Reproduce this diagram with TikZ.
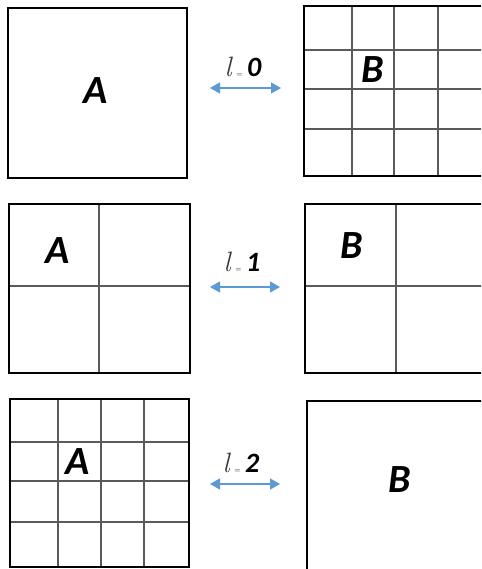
\documentclass[tikz,border=0pt]{standalone}
\usepackage{fontspec}
\newfontfamily\calib{Carlito}
\usepackage{tikz}
\usetikzlibrary{arrows.meta, positioning}
\definecolor{lnblue}{HTML}{5B9BD5}
\definecolor{gridgray}{HTML}{5A5A5A}
\definecolor{elgray}{HTML}{3A3A3A}

\begin{document}
\begin{tikzpicture}[
  x=1pt, y=-1pt,
  blk/.style={draw=black, line width=2.8pt, inner sep=0pt, outer sep=0pt, anchor=north west},
  cellline/.style={gridgray, line width=1.1pt},
  letter/.style={font=\calib\bfseries\itshape\fontsize{40}{44}\selectfont},
  lvl/.style={font=\fontsize{28}{30}\selectfont, inner sep=0pt},
  dbl/.style={{Triangle[length=10pt,width=11pt]}-{Triangle[length=10pt,width=11pt]}, lnblue, line width=1.3pt},
]
  \clip (0,0) rectangle (481,569);
  % l = 0
  \foreach \gx in {352,394,438} \draw[cellline] (\gx,6) -- (\gx,176);
  \foreach \gy in {50,89,129} \draw[cellline] (304,\gy) -- (484,\gy);
  \node[blk, minimum width=179, minimum height=170] (A0) at (8,8) {};
  \node[blk, minimum width=180, minimum height=170] (B0) at (304,6) {};
  \node[letter] (a0) at (96,91) {A};
  \node[letter] (b0) at (373,70) {B};
  \coordinate (l0w) at (210,88);
  \coordinate (l0e) at (281,88);
  \draw[dbl] (l0w) -- (l0e);
  \node[lvl] (lab0) at (243,67) {{\itshape\color{elgray}l}\,{\scriptsize =}\,{\calib\bfseries\itshape 0}};
  % l = 1
  \draw[cellline] (99,204) -- (99,373);
  \draw[cellline] (9,286) -- (190,286);
  \draw[cellline] (396,204) -- (396,373);
  \draw[cellline] (305,286) -- (484,286);
  \node[blk, minimum width=181, minimum height=169] (A1) at (9,204) {};
  \node[blk, minimum width=179, minimum height=169] (B1) at (305,204) {};
  \node[letter] (a1) at (58,251) {A};
  \node[letter] (b1) at (352,246) {B};
  \coordinate (l1w) at (210,287);
  \coordinate (l1e) at (280,287);
  \draw[dbl] (l1w) -- (l1e);
  \node[lvl] (lab1) at (242,262) {{\itshape\color{elgray}l}\,{\scriptsize =}\,{\calib\bfseries\itshape 1}};
  % l = 2
  \foreach \gx in {58,101,144} \draw[cellline] (\gx,399) -- (\gx,567);
  \foreach \gy in {442,481,522} \draw[cellline] (10,\gy) -- (189,\gy);
  \node[blk, minimum width=179, minimum height=168] (A2) at (10,399) {};
  \node[blk, minimum width=180, minimum height=175] (B2) at (307,401) {};
  \node[letter] (a2) at (78,462) {A};
  \node[letter] (b2) at (400,480) {B};
  \coordinate (l2w) at (210,484);
  \coordinate (l2e) at (280,484);
  \draw[dbl] (l2w) -- (l2e);
  \node[lvl] (lab2) at (241,463) {{\itshape\color{elgray}l}\,{\scriptsize =}\,{\calib\bfseries\itshape 2}};
\end{tikzpicture}
\end{document}
